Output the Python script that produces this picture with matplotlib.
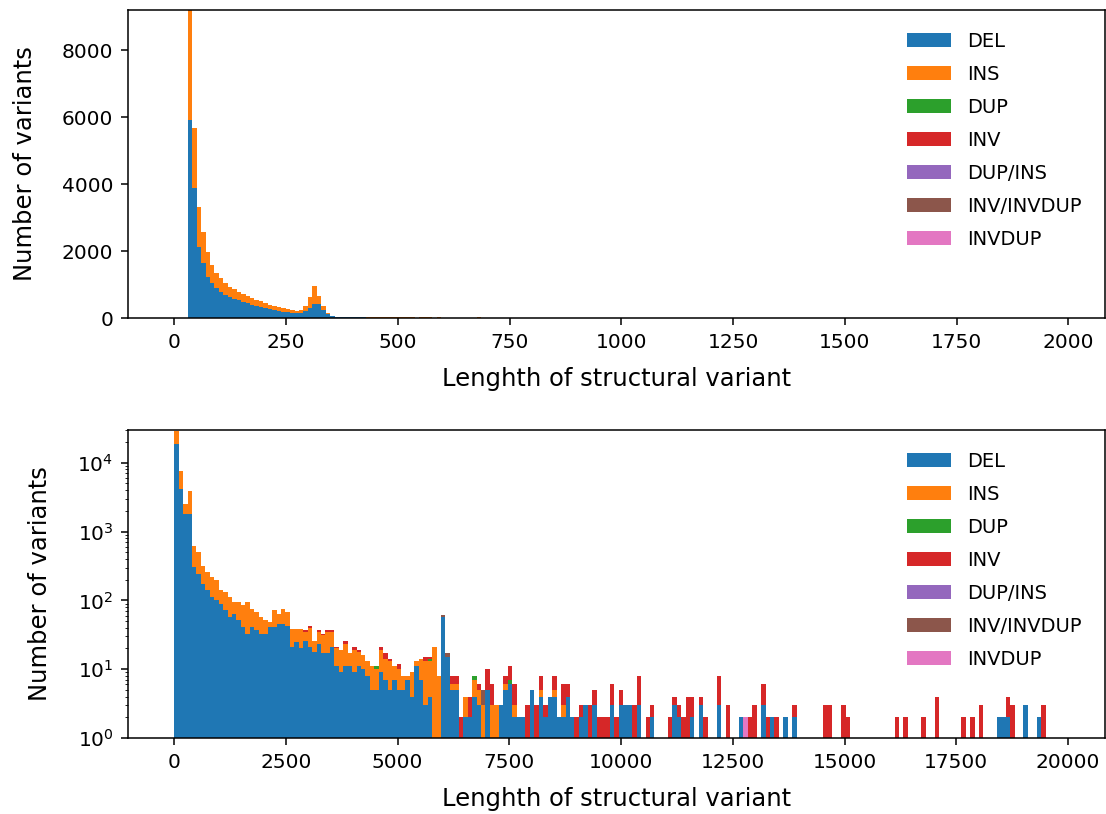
import numpy as np
import matplotlib
matplotlib.use("Agg")
from matplotlib import pyplot as plt

sv_types = ["DEL", "INS", "DUP", "INV", "DUP/INS", "INV/INVDUP", "INVDUP"]

# ---- top panel: 200 bins over 0-1990 bp ----
short_edges = np.linspace(0, 1990, 201)

short_del = [0, 0, 0, 5900, 3880, 2130, 1640, 1230, 1040, 890,
             785, 690, 640, 580, 530, 480, 440, 400, 360, 330,
             300, 270, 240, 215, 195, 175, 160, 140, 150, 200,
             300, 420, 430, 250, 120, 55, 30, 22, 20, 19,
             18, 17, 16, 15, 14, 13, 12, 12, 11, 10,
             10, 9, 9, 8, 2, 8, 8, 7, 2, 8,
             2, 2, 1, 1, 1, 1, 1, 1, 5, 1]
short_ins = [0, 0, 0, 3700, 1800, 1190, 935, 750, 540, 450,
             405, 350, 295, 290, 260, 240, 215, 200, 185, 170,
             150, 130, 115, 100, 90, 80, 70, 70, 90, 150,
             330, 535, 220, 100, 40, 20, 15, 18, 17, 16,
             15, 14, 14, 13, 12, 12, 11, 11, 10, 10,
             9, 9, 8, 8, 2, 14, 14, 14, 2, 10,
             1, 1, 1, 1, 1, 1, 1, 1, 22, 1]
short_other = {"INV": {59: 8}}

# ---- bottom panel: 200 bins over 0-19900 bp ----
long_edges = np.linspace(0, 19900, 201)

long_del = [18600, 4160, 1800, 1800, 304, 244, 175, 140, 112, 100, 89, 72, 57, 64, 51, 41, 33, 41, 37, 33,
            33, 41, 41, 45, 45, 43, 21, 25, 20, 26, 21, 18, 23, 17, 17, 21, 11, 9, 11, 11,
            9, 11, 10, 8, 5, 5, 9, 7, 5, 7, 5, 5, 7, 4, 11, 7, 3, 4, 1, 0,
            58, 15, 5, 5, 0, 2, 2, 4, 3, 0, 5, 0, 0, 3, 5, 6, 2, 2, 2, 0,
            5, 0, 4, 2, 4, 4, 2, 2, 4, 2, 0, 2, 3, 0, 3, 0, 0, 0, 3, 0,
            3, 3, 3, 0, 3, 0, 0, 2, 0, 0, 0, 0, 3, 2, 0, 0, 2, 0, 3, 0,
            0, 0, 3, 0, 0, 0, 0, 2, 0, 0, 0, 0, 3, 0, 2, 0, 0, 2, 0, 2,
            0, 0, 0, 0, 0, 0, 0, 0, 0, 0, 0, 0, 0, 0, 0, 0, 0, 0, 0, 0,
            0, 0, 0, 0, 0, 0, 0, 0, 0, 0, 0, 0, 0, 0, 0, 0, 0, 0, 0, 0,
            0, 0, 0, 0, 0, 2, 2, 2, 0, 0, 0, 3, 0, 0, 2, 0, 0, 0, 0, 0]
long_ins = [10400, 3490, 730, 2130, 320, 256, 146, 117, 106, 95, 51, 60, 55, 31, 44, 44, 62, 35, 31, 24,
            18, 8, 31, 19, 31, 25, 18, 14, 19, 9, 19, 8, 12, 14, 18, 14, 9, 10, 12, 6,
            10, 7, 6, 5, 6, 5, 10, 7, 8, 4, 5, 3, 1, 5, 2, 7, 10, 9, 20, 8,
            0, 0, 1, 1, 0, 2, 0, 3, 2, 3, 0, 3, 3, 0, 1, 0, 1, 0, 0, 0,
            0, 0, 1, 0, 0, 1, 0, 1]
long_other = {
    "DUP": {45: 1, 57: 1, 67: 1, 75: 1},
    "INV": {4: 3, 29: 2, 30: 3, 32: 2, 33: 2, 34: 2, 35: 2, 36: 1, 38: 3,
            40: 2, 41: 1, 46: 2, 47: 3, 48: 1, 50: 2, 56: 2, 57: 1,
            62: 2, 63: 2, 64: 2, 66: 2, 68: 1, 70: 5, 71: 3, 74: 2, 75: 4, 76: 3, 79: 3,
            81: 3, 82: 3, 83: 1, 85: 3, 87: 3, 88: 2, 90: 2, 91: 1, 93: 3, 94: 2,
            95: 2, 96: 2, 97: 2, 98: 3, 99: 2, 100: 2, 103: 3, 104: 5, 106: 2, 107: 1,
            111: 2, 112: 1, 113: 1, 114: 2, 115: 4, 116: 2, 118: 1, 119: 2,
            122: 5, 124: 3, 129: 2, 130: 3, 132: 3, 133: 2, 135: 2, 139: 1,
            146: 3, 147: 3, 150: 3, 151: 2, 162: 2, 164: 2, 168: 2, 171: 4,
            177: 2, 179: 2, 181: 3, 187: 2, 188: 3, 195: 3},
    "INV/INVDUP": {60: 3, 61: 2, 69: 2},
    "INVDUP": {128: 2},
}


def counts_for(dels, ins, other, nbins):
    out = []
    for t in sv_types:
        c = np.zeros(nbins)
        if t == "DEL":
            c[:len(dels)] = dels
        elif t == "INS":
            c[:len(ins)] = ins
        for k, v in other.get(t, {}).items():
            c[k] = v
        out.append(c)
    return out


def draw(ax, edges, counts):
    centers = (edges[:-1] + edges[1:]) / 2
    ax.hist([centers] * len(counts), bins=edges, weights=counts,
            stacked=True, label=sv_types)
    ax.set_xlabel("Lenghth of structural variant", fontsize=17.5, labelpad=11)
    ax.set_ylabel("Number of variants", fontsize=17.5, labelpad=18)
    ax.tick_params(labelsize=14.5, length=5, width=1.1, pad=5.5)
    for s in ax.spines.values():
        s.set_linewidth(1.1)
    ax.legend(loc="upper left", bbox_to_anchor=(0.797, 0.93), frameon=False,
              fontsize=14, handlelength=2.3, labelspacing=0.72,
              borderpad=0, borderaxespad=0)


fig = plt.figure(figsize=(11.06, 8.14), dpi=100)
ax1 = fig.add_axes([0.1157, 0.6093, 0.8834, 0.3784])
ax2 = fig.add_axes([0.1157, 0.0934, 0.8834, 0.3784])

draw(ax1, short_edges, counts_for(short_del, short_ins, short_other, 200))
ax1.set_xlim(-104, 2082)
ax1.set_ylim(0, 9200)

draw(ax2, long_edges, counts_for(long_del, long_ins, long_other, 200))
ax2.set_yscale("log")
ax2.set_xlim(-1036, 20830)
ax2.set_ylim(1, 30000)

fig.savefig("out.png", dpi=100)
